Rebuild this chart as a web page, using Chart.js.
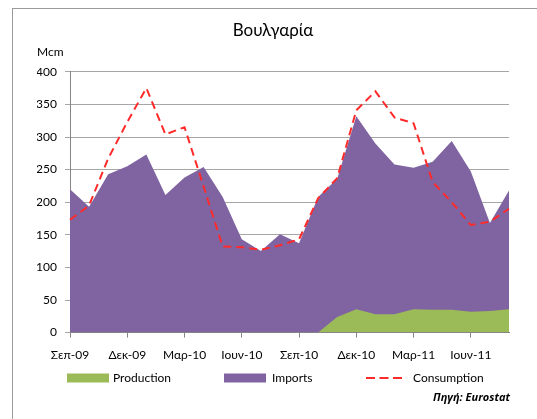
<!DOCTYPE html>
<html>
<head>
<meta charset="utf-8">
<script src="https://cdn.jsdelivr.net/npm/chart.js@4.4.0/dist/chart.umd.min.js"></script>
<style>
  html, body { margin: 0; padding: 0; background: #fff; overflow: hidden; }
  #frame { position: absolute; left: 12px; top: 8px; width: 600px; height: 500px;
           border-top: 1px solid #9a9a9a; border-left: 1px solid #9a9a9a; }
  #wrap { position: absolute; left: 13px; top: 9px; width: 524px; height: 410px; }
  #source { position: absolute; right: 27px; top: 389px; font: italic bold 11px 'Open Sans', sans-serif; color: #000; }
</style>
</head>
<body>
<div id="frame"></div>
<div id="wrap"><canvas id="chart"></canvas></div>
<div id="source">Πηγή: Eurostat</div>
<script>
// μήνες Σεπ-09 .. Αυγ-11
const months = ['Σεπ-09', 'Οκτ-09', 'Νοε-09', 'Δεκ-09', 'Ιαν-10', 'Φεβ-10', 'Μαρ-10', 'Απρ-10',
    'Μαϊ-10', 'Ιουν-10', 'Ιουλ-10', 'Αυγ-10', 'Σεπ-10', 'Οκτ-10', 'Νοε-10', 'Δεκ-10',
    'Ιαν-11', 'Φεβ-11', 'Μαρ-11', 'Απρ-11', 'Μαϊ-11', 'Ιουν-11', 'Ιουλ-11', 'Αυγ-11'];
const production = [0, 0, 0, 0, 0, 0, 0, 0, 0, 0, 0, 0, 0, 0, 24, 36, 28, 28, 36, 35, 35, 32, 33, 36];
const imports = [220, 193, 243, 255, 273, 211, 238, 254, 208, 143, 125, 151, 137, 208, 212, 296, 262, 230, 217, 227, 259, 215, 135, 182];
const consumption = [173, 195, 267, 323, 375, 304, 315, 224, 132, 131, 127, 134, 143, 206, 237, 341, 370, 330, 321, 231, 200, 165, 170, 190];
const yMin = 0, yMax = 400, yStep = 50;
const labelEvery = 3;

const FONT = "Lato, 'Open Sans', sans-serif";
Chart.defaults.color = '#000';
Chart.defaults.font.family = FONT;
Chart.defaults.font.size = 12;

// legend like the excel one: [box x, text x] in canvas px
const legendPos = [[54, 100], [211, 259], [353, 400]];
const legendY = 369;

const excelLegend = {
    id: 'excelLegend',
    afterDraw(chart) {
        const ctx = chart.ctx;
        ctx.save();
        ctx.font = '12px ' + FONT;
        ctx.textBaseline = 'middle';
        chart.data.datasets.forEach((ds, i) => {
            const [bx, tx] = legendPos[i];
            if (ds.fill === false) {
                ctx.strokeStyle = ds.borderColor;
                ctx.lineWidth = ds.borderWidth;
                ctx.setLineDash([9, 4.5]);
                ctx.beginPath();
                ctx.moveTo(bx, legendY);
                ctx.lineTo(bx + 37, legendY);
                ctx.stroke();
                ctx.setLineDash([]);
            } else {
                ctx.fillStyle = ds.backgroundColor;
                ctx.fillRect(bx, legendY - 4.5, 42, 9);
            }
            ctx.fillStyle = '#000';
            ctx.fillText(ds.label, tx, legendY);
        });
        ctx.restore();
    }
};

new Chart(document.getElementById('chart').getContext('2d'), {
    type: 'line',
    data: {
        labels: months,
        datasets: [
            { label: 'Production', data: production, stack: 'supply', order: 1,
              backgroundColor: '#9bbb59', borderWidth: 0, fill: 'origin', pointRadius: 0 },
            { label: 'Imports', data: imports, stack: 'supply', order: 2,
              backgroundColor: '#8064a2', borderWidth: 0, fill: 'origin', pointRadius: 0 },
            { label: 'Consumption', data: consumption, stack: 'cons', order: 0,
              borderColor: '#ff2b2b', borderWidth: 2, borderDash: [8, 5], fill: false, pointRadius: 0 }
        ]
    },
    options: {
        responsive: true,
        maintainAspectRatio: false,
        animation: false,
        layout: { padding: { left: 24, right: 28, top: 0, bottom: 47 } },
        plugins: {
            legend: { display: false },
            tooltip: { enabled: false },
            title: { display: true, text: 'Βουλγαρία', font: { size: 17, weight: 'normal' },
                     padding: { top: 11, bottom: 2 } },
            subtitle: { display: true, text: 'Mcm', align: 'start', font: { size: 12 },
                        padding: { top: 3, bottom: 12 } }
        },
        scales: {
            x: {
                grid: { drawOnChartArea: false, tickLength: 5, color: '#868686' },
                border: { color: '#868686' },
                ticks: { autoSkip: false, maxRotation: 0, padding: 10,
                         callback: (v, i) => i % labelEvery === 0 ? months[i] : null }
            },
            y: {
                stacked: true,
                min: yMin, max: yMax,
                afterFit: s => { s.width = 33; },
                grid: { color: '#a6a6a6', tickLength: 5 },
                border: { color: '#868686' },
                ticks: { stepSize: yStep, padding: 8 }
            }
        }
    },
    plugins: [excelLegend]
});
</script>
</body>
</html>
